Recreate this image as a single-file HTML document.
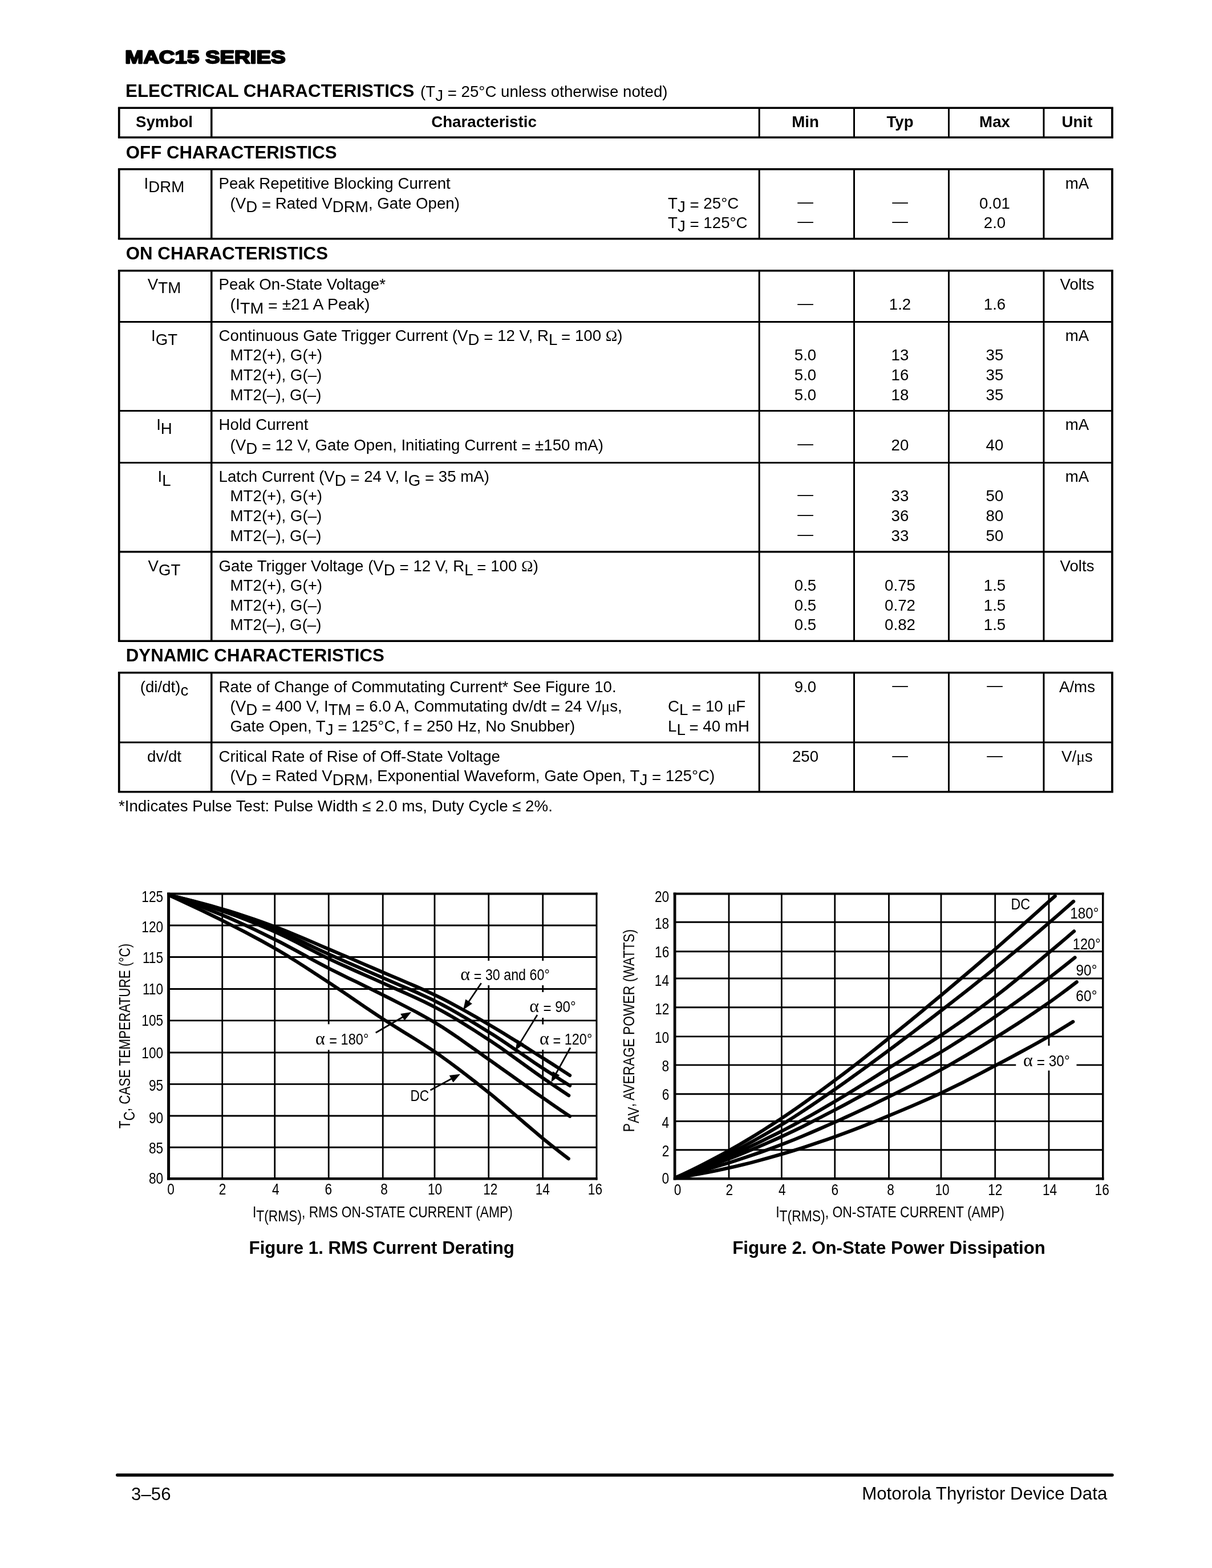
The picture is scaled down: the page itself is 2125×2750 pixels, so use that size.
<!DOCTYPE html>
<html lang="en"><head><meta charset="utf-8"><title>MAC15 Series - Electrical Characteristics</title>
<style>
html,body{margin:0;padding:0;background:#fff}
svg{display:block}
text{font-family:"Liberation Sans",sans-serif;font-size:27.7px;fill:#000;white-space:pre}
.sy{font-family:"Liberation Serif",serif}
line,path{stroke:#000;fill:none}
.hv{stroke:#000;stroke-width:2.3px;stroke-linejoin:round;paint-order:stroke}
</style></head><body>
<svg xml:space="preserve" width="2125" height="2750" viewBox="0 0 2125 2750">
<rect width="2125" height="2750" fill="#fff"/>
<text x="219.2" y="111.2" style="font-size:32px" font-weight="bold" textLength="281.5" lengthAdjust="spacingAndGlyphs" class="hv">MAC15 SERIES</text>
<text x="220" y="170" style="font-size:31.37px" font-weight="bold">ELECTRICAL CHARACTERISTICS</text>
<text x="737" y="170">(T<tspan dy="6.5">J</tspan><tspan dy="-6.5"> </tspan><tspan dy="3">=</tspan><tspan dy="-3"> 25°C unless otherwise noted)</tspan></text>
<text x="220.8" y="277.5" style="font-size:31.25px" font-weight="bold">OFF CHARACTERISTICS</text>
<text x="220.8" y="455" style="font-size:31.25px" font-weight="bold">ON CHARACTERISTICS</text>
<text x="220.8" y="1160" style="font-size:31.25px" font-weight="bold">DYNAMIC CHARACTERISTICS</text>
<line x1="206.9" y1="189.25" x2="1951.9" y2="189.25" stroke-width="3.6" />
<line x1="206.9" y1="241" x2="1951.9" y2="241" stroke-width="3.6" />
<line x1="208.75" y1="189.25" x2="208.75" y2="241" stroke-width="3.7" />
<line x1="1950" y1="189.25" x2="1950" y2="241" stroke-width="3.8" />
<line x1="370.8" y1="189.25" x2="370.8" y2="241" stroke-width="3.5" />
<line x1="1331.2" y1="189.25" x2="1331.2" y2="241" stroke-width="3" />
<line x1="1497.5" y1="189.25" x2="1497.5" y2="241" stroke-width="3" />
<line x1="1663.5" y1="189.25" x2="1663.5" y2="241" stroke-width="3" />
<line x1="1830" y1="189.25" x2="1830" y2="241" stroke-width="3" />
<line x1="206.9" y1="296.75" x2="1951.9" y2="296.75" stroke-width="3.6" />
<line x1="206.9" y1="418.75" x2="1951.9" y2="418.75" stroke-width="3.6" />
<line x1="208.75" y1="296.75" x2="208.75" y2="418.75" stroke-width="3.7" />
<line x1="1950" y1="296.75" x2="1950" y2="418.75" stroke-width="3.8" />
<line x1="370.8" y1="296.75" x2="370.8" y2="418.75" stroke-width="3.5" />
<line x1="1331.2" y1="296.75" x2="1331.2" y2="418.75" stroke-width="3" />
<line x1="1497.5" y1="296.75" x2="1497.5" y2="418.75" stroke-width="3" />
<line x1="1663.5" y1="296.75" x2="1663.5" y2="418.75" stroke-width="3" />
<line x1="1830" y1="296.75" x2="1830" y2="418.75" stroke-width="3" />
<line x1="206.9" y1="474.75" x2="1951.9" y2="474.75" stroke-width="3.6" />
<line x1="206.9" y1="1124.3" x2="1951.9" y2="1124.3" stroke-width="3.6" />
<line x1="208.75" y1="474.75" x2="208.75" y2="1124.3" stroke-width="3.7" />
<line x1="1950" y1="474.75" x2="1950" y2="1124.3" stroke-width="3.8" />
<line x1="370.8" y1="474.75" x2="370.8" y2="1124.3" stroke-width="3.5" />
<line x1="1331.2" y1="474.75" x2="1331.2" y2="1124.3" stroke-width="3" />
<line x1="1497.5" y1="474.75" x2="1497.5" y2="1124.3" stroke-width="3" />
<line x1="1663.5" y1="474.75" x2="1663.5" y2="1124.3" stroke-width="3" />
<line x1="1830" y1="474.75" x2="1830" y2="1124.3" stroke-width="3" />
<line x1="208.75" y1="564.5" x2="1950" y2="564.5" stroke-width="3" />
<line x1="208.75" y1="720.5" x2="1950" y2="720.5" stroke-width="3" />
<line x1="208.75" y1="811.5" x2="1950" y2="811.5" stroke-width="3" />
<line x1="208.75" y1="967.7" x2="1950" y2="967.7" stroke-width="3.4" />
<line x1="206.9" y1="1179.7" x2="1951.9" y2="1179.7" stroke-width="3.6" />
<line x1="206.9" y1="1388.7" x2="1951.9" y2="1388.7" stroke-width="3.6" />
<line x1="208.75" y1="1179.7" x2="208.75" y2="1388.7" stroke-width="3.7" />
<line x1="1950" y1="1179.7" x2="1950" y2="1388.7" stroke-width="3.8" />
<line x1="370.8" y1="1179.7" x2="370.8" y2="1388.7" stroke-width="3.5" />
<line x1="1331.2" y1="1179.7" x2="1331.2" y2="1388.7" stroke-width="3" />
<line x1="1497.5" y1="1179.7" x2="1497.5" y2="1388.7" stroke-width="3" />
<line x1="1663.5" y1="1179.7" x2="1663.5" y2="1388.7" stroke-width="3" />
<line x1="1830" y1="1179.7" x2="1830" y2="1388.7" stroke-width="3" />
<line x1="208.75" y1="1302" x2="1950" y2="1302" stroke-width="3" />
<text x="288" y="222.5" text-anchor="middle" font-weight="bold">Symbol</text>
<text x="848.5" y="222.5" text-anchor="middle" font-weight="bold">Characteristic</text>
<text x="1412" y="222.5" text-anchor="middle" font-weight="bold">Min</text>
<text x="1578" y="222.5" text-anchor="middle" font-weight="bold">Typ</text>
<text x="1744" y="222.5" text-anchor="middle" font-weight="bold">Max</text>
<text x="1888.5" y="222.5" text-anchor="middle" font-weight="bold">Unit</text>
<text x="288" y="330.5" text-anchor="middle">I<tspan dy="6.5">DRM</tspan></text>
<text x="383.5" y="330.5">Peak Repetitive Blocking Current</text>
<text x="1888.5" y="330.5" text-anchor="middle">mA</text>
<text x="403.5" y="365.5">(V<tspan dy="6.5">D</tspan><tspan dy="-6.5"> </tspan><tspan dy="3">=</tspan><tspan dy="-3"> Rated V</tspan><tspan dy="6.5">DRM</tspan><tspan dy="-6.5">, Gate Open)</tspan></text>
<text x="1171" y="365.5">T<tspan dy="6.5">J</tspan><tspan dy="-6.5"> </tspan><tspan dy="3">=</tspan><tspan dy="-3"> 25°C</tspan></text>
<text x="1412" y="363.0" text-anchor="middle">—</text>
<text x="1578" y="363.0" text-anchor="middle">—</text>
<text x="1744" y="365.5" text-anchor="middle">0.01</text>
<text x="1171" y="399.5">T<tspan dy="6.5">J</tspan><tspan dy="-6.5"> </tspan><tspan dy="3">=</tspan><tspan dy="-3"> 125°C</tspan></text>
<text x="1412" y="397.0" text-anchor="middle">—</text>
<text x="1578" y="397.0" text-anchor="middle">—</text>
<text x="1744" y="399.5" text-anchor="middle">2.0</text>
<text x="288" y="507.5" text-anchor="middle">V<tspan dy="6.5">TM</tspan></text>
<text x="383.5" y="507.5">Peak On-State Voltage*</text>
<text x="1888.5" y="507.5" text-anchor="middle">Volts</text>
<text x="403.5" y="543" textLength="245" lengthAdjust="spacingAndGlyphs">(I<tspan dy="6.5">TM</tspan><tspan dy="-6.5"> </tspan><tspan dy="3">=</tspan><tspan dy="-3"> ±21 A Peak)</tspan></text>
<text x="1412" y="540.5" text-anchor="middle">—</text>
<text x="1578" y="543" text-anchor="middle">1.2</text>
<text x="1744" y="543" text-anchor="middle">1.6</text>
<text x="288" y="598" text-anchor="middle">I<tspan dy="6.5">GT</tspan></text>
<text x="383.5" y="598">Continuous Gate Trigger Current (V<tspan dy="6.5">D</tspan><tspan dy="-6.5"> </tspan><tspan dy="3">=</tspan><tspan dy="-3"> 12 V, R</tspan><tspan dy="6.5">L</tspan><tspan dy="-6.5"> </tspan><tspan dy="3">=</tspan><tspan dy="-3"> 100 </tspan><tspan class="sy">Ω</tspan>)</text>
<text x="1888.5" y="598" text-anchor="middle">mA</text>
<text x="403.5" y="631.5">MT2(+), G(+)</text>
<text x="1412" y="631.5" text-anchor="middle">5.0</text>
<text x="1578" y="631.5" text-anchor="middle">13</text>
<text x="1744" y="631.5" text-anchor="middle">35</text>
<text x="403.5" y="666.5">MT2(+), G(–)</text>
<text x="1412" y="666.5" text-anchor="middle">5.0</text>
<text x="1578" y="666.5" text-anchor="middle">16</text>
<text x="1744" y="666.5" text-anchor="middle">35</text>
<text x="403.5" y="701.5">MT2(–), G(–)</text>
<text x="1412" y="701.5" text-anchor="middle">5.0</text>
<text x="1578" y="701.5" text-anchor="middle">18</text>
<text x="1744" y="701.5" text-anchor="middle">35</text>
<text x="288" y="754" text-anchor="middle">I<tspan dy="6.5">H</tspan></text>
<text x="383.5" y="754">Hold Current</text>
<text x="1888.5" y="754" text-anchor="middle">mA</text>
<text x="403.5" y="789.5">(V<tspan dy="6.5">D</tspan><tspan dy="-6.5"> </tspan><tspan dy="3">=</tspan><tspan dy="-3"> 12 V, Gate Open, Initiating Current </tspan><tspan dy="3">=</tspan><tspan dy="-3"> ±150 mA)</tspan></text>
<text x="1412" y="787.0" text-anchor="middle">—</text>
<text x="1578" y="789.5" text-anchor="middle">20</text>
<text x="1744" y="789.5" text-anchor="middle">40</text>
<text x="288" y="845" text-anchor="middle">I<tspan dy="6.5">L</tspan></text>
<text x="383.5" y="845">Latch Current (V<tspan dy="6.5">D</tspan><tspan dy="-6.5"> </tspan><tspan dy="3">=</tspan><tspan dy="-3"> 24 V, I</tspan><tspan dy="6.5">G</tspan><tspan dy="-6.5"> </tspan><tspan dy="3">=</tspan><tspan dy="-3"> 35 mA)</tspan></text>
<text x="1888.5" y="845" text-anchor="middle">mA</text>
<text x="403.5" y="878.5">MT2(+), G(+)</text>
<text x="1412" y="876.0" text-anchor="middle">—</text>
<text x="1578" y="878.5" text-anchor="middle">33</text>
<text x="1744" y="878.5" text-anchor="middle">50</text>
<text x="403.5" y="913.5">MT2(+), G(–)</text>
<text x="1412" y="911.0" text-anchor="middle">—</text>
<text x="1578" y="913.5" text-anchor="middle">36</text>
<text x="1744" y="913.5" text-anchor="middle">80</text>
<text x="403.5" y="948.5">MT2(–), G(–)</text>
<text x="1412" y="946.0" text-anchor="middle">—</text>
<text x="1578" y="948.5" text-anchor="middle">33</text>
<text x="1744" y="948.5" text-anchor="middle">50</text>
<text x="288" y="1002" text-anchor="middle">V<tspan dy="6.5">GT</tspan></text>
<text x="383.5" y="1002">Gate Trigger Voltage (V<tspan dy="6.5">D</tspan><tspan dy="-6.5"> </tspan><tspan dy="3">=</tspan><tspan dy="-3"> 12 V, R</tspan><tspan dy="6.5">L</tspan><tspan dy="-6.5"> </tspan><tspan dy="3">=</tspan><tspan dy="-3"> 100 </tspan><tspan class="sy">Ω</tspan>)</text>
<text x="1888.5" y="1002" text-anchor="middle">Volts</text>
<text x="403.5" y="1035.5">MT2(+), G(+)</text>
<text x="1412" y="1035.5" text-anchor="middle">0.5</text>
<text x="1578" y="1035.5" text-anchor="middle">0.75</text>
<text x="1744" y="1035.5" text-anchor="middle">1.5</text>
<text x="403.5" y="1070.5">MT2(+), G(–)</text>
<text x="1412" y="1070.5" text-anchor="middle">0.5</text>
<text x="1578" y="1070.5" text-anchor="middle">0.72</text>
<text x="1744" y="1070.5" text-anchor="middle">1.5</text>
<text x="403.5" y="1105">MT2(–), G(–)</text>
<text x="1412" y="1105" text-anchor="middle">0.5</text>
<text x="1578" y="1105" text-anchor="middle">0.82</text>
<text x="1744" y="1105" text-anchor="middle">1.5</text>
<text x="288" y="1213.5" text-anchor="middle">(di/dt)<tspan dy="6.5">c</tspan></text>
<text x="383.5" y="1213.5">Rate of Change of Commutating Current* See Figure 10.</text>
<text x="1412" y="1213.5" text-anchor="middle">9.0</text>
<text x="1578" y="1211.0" text-anchor="middle">—</text>
<text x="1744" y="1211.0" text-anchor="middle">—</text>
<text x="1888.5" y="1213.5" text-anchor="middle">A/ms</text>
<text x="403.5" y="1247.5">(V<tspan dy="6.5">D</tspan><tspan dy="-6.5"> </tspan><tspan dy="3">=</tspan><tspan dy="-3"> 400 V, I</tspan><tspan dy="6.5">TM</tspan><tspan dy="-6.5"> </tspan><tspan dy="3">=</tspan><tspan dy="-3"> 6.0 A, Commutating dv/dt </tspan><tspan dy="3">=</tspan><tspan dy="-3"> 24 V/</tspan><tspan class="sy">μ</tspan>s,</text>
<text x="1171" y="1247.5">C<tspan dy="6.5">L</tspan><tspan dy="-6.5"> </tspan><tspan dy="3">=</tspan><tspan dy="-3"> 10 </tspan><tspan class="sy">μ</tspan>F</text>
<text x="403.5" y="1282.5">Gate Open, T<tspan dy="6.5">J</tspan><tspan dy="-6.5"> </tspan><tspan dy="3">=</tspan><tspan dy="-3"> 125°C, f </tspan><tspan dy="3">=</tspan><tspan dy="-3"> 250 Hz, No Snubber)</tspan></text>
<text x="1171" y="1282.5">L<tspan dy="6.5">L</tspan><tspan dy="-6.5"> </tspan><tspan dy="3">=</tspan><tspan dy="-3"> 40 mH</tspan></text>
<text x="288" y="1336" text-anchor="middle">dv/dt</text>
<text x="383.5" y="1336">Critical Rate of Rise of Off-State Voltage</text>
<text x="1412" y="1336" text-anchor="middle">250</text>
<text x="1578" y="1333.5" text-anchor="middle">—</text>
<text x="1744" y="1333.5" text-anchor="middle">—</text>
<text x="1888.5" y="1336" text-anchor="middle">V/<tspan class="sy">μ</tspan>s</text>
<text x="403.5" y="1370">(V<tspan dy="6.5">D</tspan><tspan dy="-6.5"> </tspan><tspan dy="3">=</tspan><tspan dy="-3"> Rated V</tspan><tspan dy="6.5">DRM</tspan><tspan dy="-6.5">, Exponential Waveform, Gate Open, T</tspan><tspan dy="6.5">J</tspan><tspan dy="-6.5"> </tspan><tspan dy="3">=</tspan><tspan dy="-3"> 125°C)</tspan></text>
<text x="208" y="1423">*Indicates Pulse Test: Pulse Width ≤ 2.0 ms, Duty Cycle ≤ 2%.</text>
<line x1="205.8" y1="2587" x2="1950" y2="2587" stroke-width="5.6" stroke-linecap="round"/>
<text x="230" y="2630.5" style="font-size:31.25px">3–56</text>
<text x="1941.3" y="2630.3" style="font-size:31.25px" text-anchor="end">Motorola Thyristor Device Data</text>
<clipPath id="c1"><rect x="295.6" y="1567.6" width="750.4" height="499.6"/></clipPath>
<line x1="389.75" y1="1567.6" x2="389.75" y2="2067.2" stroke-width="2.8" />
<line x1="481.75" y1="1567.6" x2="481.75" y2="2067.2" stroke-width="2.8" />
<line x1="576.25" y1="1567.6" x2="576.25" y2="2067.2" stroke-width="2.8" />
<line x1="671.25" y1="1567.6" x2="671.25" y2="2067.2" stroke-width="2.8" />
<line x1="762" y1="1567.6" x2="762" y2="2067.2" stroke-width="2.8" />
<line x1="856.75" y1="1567.6" x2="856.75" y2="2067.2" stroke-width="2.8" />
<line x1="951.75" y1="1567.6" x2="951.75" y2="2067.2" stroke-width="2.8" />
<line x1="295.6" y1="1623" x2="1046" y2="1623" stroke-width="2.8" />
<line x1="295.6" y1="1678.5" x2="1046" y2="1678.5" stroke-width="2.8" />
<line x1="295.6" y1="1734.5" x2="1046" y2="1734.5" stroke-width="2.8" />
<line x1="295.6" y1="1789.9" x2="1046" y2="1789.9" stroke-width="2.8" />
<line x1="295.6" y1="1846" x2="1046" y2="1846" stroke-width="2.8" />
<line x1="295.6" y1="1901.4" x2="1046" y2="1901.4" stroke-width="2.8" />
<line x1="295.6" y1="1957" x2="1046" y2="1957" stroke-width="2.8" />
<line x1="295.6" y1="2012.25" x2="1046" y2="2012.25" stroke-width="2.8" />
<rect x="800" y="1685" width="170" height="43" fill="#fff"/>
<rect x="925" y="1740" width="90" height="45" fill="#fff"/>
<rect x="940" y="1796.6" width="100" height="44.4" fill="#fff"/>
<rect x="548" y="1796.3" width="102" height="45" fill="#fff"/>
<line x1="295.6" y1="1565.6" x2="295.6" y2="2069.3999999999996" stroke-width="5" />
<line x1="1046" y1="1565.6" x2="1046" y2="2069.3999999999996" stroke-width="3" />
<line x1="293.1" y1="1567.6" x2="1047.5" y2="1567.6" stroke-width="4" />
<line x1="293.1" y1="2067.2" x2="1047.5" y2="2067.2" stroke-width="4.5" />
<path d="M295.6 1569.8 L310.6 1573.3 L325.5 1576.9 L340.5 1580.7 L355.5 1584.7 L370.4 1588.8 L385.4 1593.1 L400.4 1597.5 L415.3 1602.2 L430.3 1607.1 L445.3 1612.2 L460.2 1617.4 L475.2 1622.8 L490.2 1628.4 L505.2 1634.3 L520.1 1640.5 L535.1 1646.9 L550.1 1653.3 L565.0 1659.8 L580.0 1666.1 L595.0 1672.5 L609.9 1678.8 L624.9 1685.3 L639.9 1691.7 L654.8 1698.1 L669.8 1704.6 L684.8 1711.0 L699.7 1717.3 L714.7 1723.7 L729.7 1730.1 L744.6 1736.8 L759.6 1743.7 L774.6 1751.1 L789.5 1758.8 L804.5 1766.9 L819.5 1775.2 L834.5 1783.7 L849.4 1792.4 L864.4 1801.1 L879.4 1810.1 L894.3 1819.3 L909.3 1828.7 L924.3 1838.2 L939.2 1847.7 L954.2 1857.2 L969.2 1866.7 L984.1 1876.3 L999.1 1886.0" stroke-width="6.1" stroke-linecap="round" stroke-linejoin="round" clip-path="url(#c1)"/>
<path d="M295.6 1569.8 L310.6 1573.4 L325.5 1577.3 L340.5 1581.3 L355.5 1585.6 L370.4 1590.0 L385.4 1594.7 L400.4 1599.5 L415.3 1604.5 L430.3 1609.8 L445.3 1615.4 L460.2 1621.1 L475.2 1627.1 L490.2 1633.2 L505.2 1639.8 L520.1 1646.8 L535.1 1654.0 L550.1 1661.2 L565.0 1668.2 L580.0 1675.1 L595.0 1681.7 L609.9 1688.3 L624.9 1694.7 L639.9 1701.2 L654.8 1707.7 L669.8 1714.3 L684.8 1720.8 L699.7 1727.2 L714.7 1733.6 L729.7 1740.1 L744.6 1746.9 L759.6 1754.1 L774.6 1761.7 L789.5 1769.8 L804.5 1778.3 L819.5 1787.1 L834.5 1796.2 L849.4 1805.4 L864.4 1814.7 L879.4 1824.4 L894.3 1834.5 L909.3 1844.7 L924.3 1855.0 L939.2 1865.2 L954.2 1875.1 L969.2 1884.8 L984.1 1894.5 L999.1 1904.0" stroke-width="6.1" stroke-linecap="round" stroke-linejoin="round" clip-path="url(#c1)"/>
<path d="M295.6 1569.8 L310.5 1573.6 L325.5 1577.7 L340.4 1582.0 L355.3 1586.5 L370.2 1591.2 L385.2 1596.1 L400.1 1601.3 L415.0 1606.7 L430.0 1612.4 L444.9 1618.4 L459.8 1624.6 L474.7 1631.0 L489.7 1637.7 L504.6 1644.8 L519.5 1652.4 L534.5 1660.2 L549.4 1667.9 L564.3 1675.5 L579.2 1682.8 L594.2 1689.7 L609.1 1696.4 L624.0 1703.1 L638.9 1709.7 L653.9 1716.3 L668.8 1723.0 L683.7 1729.8 L698.7 1736.4 L713.6 1743.0 L728.5 1749.8 L743.4 1756.8 L758.4 1764.2 L773.3 1772.1 L788.2 1780.5 L803.2 1789.4 L818.1 1798.6 L833.0 1808.0 L847.9 1817.7 L862.9 1827.4 L877.8 1837.6 L892.7 1848.2 L907.7 1858.9 L922.6 1869.7 L937.5 1880.5 L952.4 1890.9 L967.4 1901.2 L982.3 1911.3 L997.2 1921.3" stroke-width="6.1" stroke-linecap="round" stroke-linejoin="round" clip-path="url(#c1)"/>
<path d="M295.6 1569.8 L310.6 1574.8 L325.5 1580.1 L340.5 1585.6 L355.5 1591.2 L370.4 1597.1 L385.4 1603.1 L400.4 1609.4 L415.3 1616.0 L430.3 1622.8 L445.3 1629.8 L460.2 1637.0 L475.2 1644.4 L490.2 1651.8 L505.2 1659.7 L520.1 1667.8 L535.1 1676.0 L550.1 1684.3 L565.0 1692.3 L580.0 1700.1 L595.0 1707.6 L609.9 1714.9 L624.9 1722.1 L639.9 1729.4 L654.8 1736.7 L669.8 1744.2 L684.8 1751.8 L699.7 1759.4 L714.7 1767.1 L729.7 1774.9 L744.6 1783.1 L759.6 1791.7 L774.6 1800.8 L789.5 1810.6 L804.5 1820.8 L819.5 1831.4 L834.5 1842.1 L849.4 1852.8 L864.4 1863.3 L879.4 1873.9 L894.3 1884.6 L909.3 1895.3 L924.3 1906.0 L939.2 1916.7 L954.2 1927.1 L969.2 1937.5 L984.1 1947.7 L999.1 1957.8" stroke-width="6.1" stroke-linecap="round" stroke-linejoin="round" clip-path="url(#c1)"/>
<path d="M295.6 1569.8 L310.5 1576.5 L325.4 1583.4 L340.4 1590.4 L355.3 1597.5 L370.2 1604.7 L385.1 1612.1 L400.0 1619.6 L414.9 1627.1 L429.9 1634.8 L444.8 1642.7 L459.7 1650.7 L474.6 1659.1 L489.5 1667.7 L504.5 1676.7 L519.4 1686.0 L534.3 1695.5 L549.2 1705.3 L564.1 1715.0 L579.0 1724.8 L594.0 1734.7 L608.9 1744.8 L623.8 1755.0 L638.7 1765.2 L653.6 1775.3 L668.6 1785.2 L683.5 1794.8 L698.4 1804.1 L713.3 1813.3 L728.2 1822.5 L743.1 1832.0 L758.1 1841.8 L773.0 1852.1 L787.9 1862.9 L802.8 1874.0 L817.7 1885.4 L832.7 1897.0 L847.6 1908.8 L862.5 1920.7 L877.4 1933.1 L892.3 1945.8 L907.2 1958.7 L922.2 1971.6 L937.1 1984.3 L952.0 1996.8 L966.9 2008.8 L981.8 2020.6 L996.8 2032.2" stroke-width="6.1" stroke-linecap="round" stroke-linejoin="round" clip-path="url(#c1)"/>
<text transform="translate(248.29 1582.2) scale(0.8200 1)">125</text>
<text transform="translate(248.29 1635.3) scale(0.8200 1)">120</text>
<text transform="translate(249.88 1689.1) scale(0.8200 1)">115</text>
<text transform="translate(249.88 1744.1) scale(0.8200 1)">110</text>
<text transform="translate(248.29 1799.1) scale(0.8200 1)">105</text>
<text transform="translate(248.29 1855.6) scale(0.8200 1)">100</text>
<text transform="translate(260.90 1913) scale(0.8200 1)">95</text>
<text transform="translate(260.90 1969.8) scale(0.8200 1)">90</text>
<text transform="translate(260.90 2022.5) scale(0.8200 1)">85</text>
<text transform="translate(260.90 2075.6) scale(0.8200 1)">80</text>
<text transform="translate(293.20 2095) scale(0.8200 1)">0</text>
<text transform="translate(383.73 2095) scale(0.8200 1)">2</text>
<text transform="translate(477.08 2095) scale(0.8200 1)">4</text>
<text transform="translate(569.62 2095) scale(0.8200 1)">6</text>
<text transform="translate(667.30 2095) scale(0.8200 1)">8</text>
<text transform="translate(749.95 2095) scale(0.8200 1)">10</text>
<text transform="translate(847.17 2095) scale(0.8200 1)">12</text>
<text transform="translate(938.72 2095) scale(0.8200 1)">14</text>
<text transform="translate(1030.81 2095) scale(0.8200 1)">16</text>
<text transform="translate(442.95 2135) scale(0.8232 1)">I<tspan dy="6.5">T(RMS)</tspan><tspan dy="-6.5">, RMS ON-STATE CURRENT (AMP)</tspan></text>
<text transform="translate(228.20 1979.2629797627355) rotate(-90) scale(0.8130 1)">T<tspan dy="7.5">C</tspan><tspan dy="-7.5">, CASE TEMPERATURE (°C)</tspan></text>
<text x="669.25" y="2199" style="font-size:31.25px" text-anchor="middle" font-weight="bold">Figure 1. RMS Current Derating</text>
<text x="807.3" y="1719" class="sy" style="font-size:32px">α</text>
<text transform="translate(830.84 1719) scale(0.8400 1)"><tspan dy="3">=</tspan><tspan dy="-3"> 30 and 60°</tspan></text>
<text x="928.2" y="1775" class="sy" style="font-size:32px">α</text>
<text transform="translate(952.39 1775) scale(0.8718 1)"><tspan dy="3">=</tspan><tspan dy="-3"> 90°</tspan></text>
<text x="946.0" y="1831.5" class="sy" style="font-size:32px">α</text>
<text transform="translate(969.42 1831.5) scale(0.8488 1)"><tspan dy="3">=</tspan><tspan dy="-3"> 120°</tspan></text>
<text x="553.0" y="1832" class="sy" style="font-size:32px">α</text>
<text transform="translate(577.22 1832) scale(0.8526 1)"><tspan dy="3">=</tspan><tspan dy="-3"> 180°</tspan></text>
<text transform="translate(719.43 1931.25) scale(0.8205 1)">DC</text>
<line x1="843.75" y1="1724.25" x2="821.0" y2="1758.0" stroke-width="2.7" />
<polygon points="812.0,1771.2 816.3,1752.4 827.9,1760.3" fill="#000"/>
<line x1="942" y1="1780" x2="911.9" y2="1828.9" stroke-width="2.7" />
<polygon points="903.5,1842.5 907.0,1823.5 918.9,1830.8" fill="#000"/>
<line x1="1000" y1="1837.5" x2="974.2" y2="1884.0" stroke-width="2.7" />
<polygon points="966.4,1898.0 969.0,1878.9 981.3,1885.7" fill="#000"/>
<line x1="658.75" y1="1811.25" x2="707.4" y2="1783.0" stroke-width="2.7" />
<polygon points="721.2,1775.0 709.2,1790.1 702.2,1778.0" fill="#000"/>
<line x1="754.5" y1="1912" x2="792.9" y2="1891.3" stroke-width="2.7" />
<polygon points="807.0,1883.8 794.5,1898.4 787.8,1886.1" fill="#000"/>
<clipPath id="c2"><rect x="1183.1" y="1567.5" width="750.6" height="499.7"/></clipPath>
<line x1="1278" y1="1567.5" x2="1278" y2="2067.2" stroke-width="2.8" />
<line x1="1370.4" y1="1567.5" x2="1370.4" y2="2067.2" stroke-width="2.8" />
<line x1="1463.75" y1="1567.5" x2="1463.75" y2="2067.2" stroke-width="2.8" />
<line x1="1558.5" y1="1567.5" x2="1558.5" y2="2067.2" stroke-width="2.8" />
<line x1="1650" y1="1567.5" x2="1650" y2="2067.2" stroke-width="2.8" />
<line x1="1744.75" y1="1567.5" x2="1744.75" y2="2067.2" stroke-width="2.8" />
<line x1="1839" y1="1567.5" x2="1839" y2="2067.2" stroke-width="2.8" />
<line x1="1183.1" y1="1617.25" x2="1933.75" y2="1617.25" stroke-width="2.8" />
<line x1="1183.1" y1="1668.75" x2="1933.75" y2="1668.75" stroke-width="2.8" />
<line x1="1183.1" y1="1716" x2="1933.75" y2="1716" stroke-width="2.8" />
<line x1="1183.1" y1="1766.75" x2="1933.75" y2="1766.75" stroke-width="2.8" />
<line x1="1183.1" y1="1817.9" x2="1933.75" y2="1817.9" stroke-width="2.8" />
<line x1="1183.1" y1="1867.9" x2="1933.75" y2="1867.9" stroke-width="2.8" />
<line x1="1183.1" y1="1918.75" x2="1933.75" y2="1918.75" stroke-width="2.8" />
<line x1="1183.1" y1="1966.5" x2="1933.75" y2="1966.5" stroke-width="2.8" />
<line x1="1183.1" y1="2016.75" x2="1933.75" y2="2016.75" stroke-width="2.8" />
<rect x="1781.25" y="1834" width="106.25" height="43.5" fill="#fff"/>
<line x1="1183.1" y1="1565.5" x2="1183.1" y2="2069.3999999999996" stroke-width="4.75" />
<line x1="1933.75" y1="1565.5" x2="1933.75" y2="2069.3999999999996" stroke-width="3.5" />
<line x1="1180.6999999999998" y1="1567.5" x2="1935.45" y2="1567.5" stroke-width="4" />
<line x1="1180.6999999999998" y1="2067.2" x2="1935.45" y2="2067.2" stroke-width="4.5" />
<path d="M1183.1 2066.0 L1197.3 2059.4 L1211.5 2052.7 L1225.7 2045.7 L1239.8 2038.5 L1254.0 2031.0 L1268.2 2023.4 L1282.4 2015.5 L1296.6 2007.4 L1310.8 1999.0 L1325.0 1990.4 L1339.1 1981.5 L1353.3 1972.4 L1367.5 1963.2 L1381.7 1953.7 L1395.9 1944.0 L1410.1 1934.0 L1424.3 1923.8 L1438.4 1913.4 L1452.6 1902.9 L1466.8 1892.4 L1481.0 1881.7 L1495.2 1870.8 L1509.4 1859.8 L1523.6 1848.6 L1537.7 1837.4 L1551.9 1826.0 L1566.1 1814.7 L1580.3 1803.2 L1594.5 1791.6 L1608.7 1780.0 L1622.9 1768.2 L1637.0 1756.4 L1651.2 1744.6 L1665.4 1732.7 L1679.6 1720.7 L1693.8 1708.7 L1708.0 1696.6 L1722.2 1684.4 L1736.3 1672.1 L1750.5 1659.8 L1764.7 1647.3 L1778.9 1634.7 L1793.1 1622.1 L1807.3 1609.4 L1821.5 1596.7 L1835.6 1584.1 L1849.8 1571.6" stroke-width="6.1" stroke-linecap="round" stroke-linejoin="round" clip-path="url(#c2)"/>
<path d="M1183.1 2066.0 L1198.0 2059.9 L1212.8 2053.6 L1227.7 2047.1 L1242.6 2040.4 L1257.5 2033.4 L1272.3 2026.2 L1287.2 2018.8 L1302.1 2011.1 L1317.0 2003.1 L1331.8 1994.9 L1346.7 1986.4 L1361.6 1977.7 L1376.5 1968.8 L1391.3 1959.5 L1406.2 1949.8 L1421.1 1939.9 L1436.0 1929.8 L1450.8 1919.5 L1465.7 1909.2 L1480.6 1898.8 L1495.5 1888.1 L1510.3 1877.4 L1525.2 1866.5 L1540.1 1855.5 L1555.0 1844.5 L1569.8 1833.5 L1584.7 1822.3 L1599.6 1811.1 L1614.5 1799.8 L1629.3 1788.5 L1644.2 1777.0 L1659.1 1765.5 L1674.0 1753.9 L1688.8 1742.3 L1703.7 1730.6 L1718.6 1718.7 L1733.5 1706.8 L1748.3 1694.7 L1763.2 1682.5 L1778.1 1670.2 L1793.0 1657.8 L1807.8 1645.2 L1822.7 1632.6 L1837.6 1619.8 L1852.5 1607.0 L1867.3 1594.0 L1882.2 1580.9" stroke-width="6.1" stroke-linecap="round" stroke-linejoin="round" clip-path="url(#c2)"/>
<path d="M1183.1 2066.0 L1198.0 2060.4 L1212.9 2054.6 L1227.8 2048.7 L1242.7 2042.6 L1257.6 2036.4 L1272.5 2030.0 L1287.4 2023.5 L1302.3 2016.8 L1317.2 2009.9 L1332.0 2002.9 L1346.9 1995.6 L1361.8 1988.2 L1376.7 1980.6 L1391.6 1972.7 L1406.5 1964.6 L1421.4 1956.3 L1436.3 1947.8 L1451.2 1939.2 L1466.1 1930.4 L1481.0 1921.5 L1495.9 1912.4 L1510.8 1903.1 L1525.7 1893.8 L1540.6 1884.4 L1555.5 1875.0 L1570.4 1865.7 L1585.3 1856.5 L1600.1 1847.3 L1615.0 1838.0 L1629.9 1828.6 L1644.8 1818.9 L1659.7 1809.0 L1674.6 1798.8 L1689.5 1788.4 L1704.4 1777.8 L1719.3 1767.0 L1734.2 1755.9 L1749.1 1744.6 L1764.0 1733.0 L1778.9 1721.0 L1793.8 1708.7 L1808.7 1696.2 L1823.6 1683.7 L1838.5 1671.2 L1853.4 1658.7 L1868.3 1646.0 L1883.1 1633.3" stroke-width="6.1" stroke-linecap="round" stroke-linejoin="round" clip-path="url(#c2)"/>
<path d="M1183.1 2066.0 L1198.0 2061.1 L1212.9 2056.0 L1227.9 2050.8 L1242.8 2045.5 L1257.7 2040.0 L1272.6 2034.3 L1287.6 2028.6 L1302.5 2022.6 L1317.4 2016.5 L1332.3 2010.2 L1347.3 2003.8 L1362.2 1997.1 L1377.1 1990.3 L1392.0 1983.2 L1407.0 1975.9 L1421.9 1968.3 L1436.8 1960.6 L1451.7 1952.9 L1466.7 1945.1 L1481.6 1937.2 L1496.5 1929.1 L1511.4 1921.0 L1526.4 1912.8 L1541.3 1904.6 L1556.2 1896.4 L1571.1 1888.3 L1586.1 1880.3 L1601.0 1872.3 L1615.9 1864.3 L1630.8 1856.0 L1645.8 1847.5 L1660.7 1838.5 L1675.6 1829.2 L1690.5 1819.7 L1705.5 1809.8 L1720.4 1799.8 L1735.3 1789.7 L1750.2 1779.4 L1765.2 1769.1 L1780.1 1758.5 L1795.0 1747.8 L1809.9 1736.9 L1824.9 1725.8 L1839.8 1714.6 L1854.7 1703.1 L1869.6 1691.3 L1884.6 1679.4" stroke-width="6.1" stroke-linecap="round" stroke-linejoin="round" clip-path="url(#c2)"/>
<path d="M1183.1 2066.0 L1198.1 2062.1 L1213.1 2058.2 L1228.1 2054.0 L1243.1 2049.7 L1258.1 2045.3 L1273.1 2040.8 L1288.1 2036.1 L1303.1 2031.2 L1318.0 2026.2 L1333.0 2021.0 L1348.0 2015.6 L1363.0 2010.1 L1378.0 2004.4 L1393.0 1998.5 L1408.0 1992.3 L1423.0 1985.9 L1438.0 1979.4 L1453.0 1972.8 L1468.0 1966.2 L1483.0 1959.4 L1498.0 1952.5 L1513.0 1945.5 L1528.0 1938.4 L1543.0 1931.1 L1558.0 1923.8 L1573.0 1916.3 L1587.9 1908.8 L1602.9 1901.1 L1617.9 1893.2 L1632.9 1885.2 L1647.9 1877.1 L1662.9 1868.8 L1677.9 1860.2 L1692.9 1851.5 L1707.9 1842.6 L1722.9 1833.6 L1737.9 1824.4 L1752.9 1815.1 L1767.9 1805.7 L1782.9 1796.1 L1797.9 1786.3 L1812.9 1776.3 L1827.9 1766.1 L1842.9 1755.7 L1857.8 1744.9 L1872.8 1733.7 L1887.8 1722.3" stroke-width="6.1" stroke-linecap="round" stroke-linejoin="round" clip-path="url(#c2)"/>
<path d="M1183.1 2066.0 L1198.0 2063.7 L1212.8 2061.2 L1227.7 2058.5 L1242.5 2055.7 L1257.4 2052.7 L1272.2 2049.6 L1287.1 2046.3 L1301.9 2042.8 L1316.8 2039.1 L1331.6 2035.1 L1346.5 2031.0 L1361.4 2026.8 L1376.2 2022.5 L1391.1 2018.0 L1405.9 2013.3 L1420.8 2008.4 L1435.6 2003.4 L1450.5 1998.3 L1465.3 1993.1 L1480.2 1987.7 L1495.0 1982.1 L1509.9 1976.3 L1524.8 1970.4 L1539.6 1964.5 L1554.5 1958.4 L1569.3 1952.3 L1584.2 1946.0 L1599.0 1939.7 L1613.9 1933.3 L1628.7 1926.7 L1643.6 1919.9 L1658.4 1913.0 L1673.3 1905.8 L1688.2 1898.4 L1703.0 1890.8 L1717.9 1883.1 L1732.7 1875.3 L1747.6 1867.5 L1762.4 1859.7 L1777.3 1851.7 L1792.1 1843.7 L1807.0 1835.6 L1821.9 1827.3 L1836.7 1818.8 L1851.6 1810.1 L1866.4 1801.1 L1881.3 1791.9" stroke-width="6.1" stroke-linecap="round" stroke-linejoin="round" clip-path="url(#c2)"/>
<text transform="translate(1148.00 1581.7) scale(0.8200 1)">20</text>
<text transform="translate(1148.00 1628.8) scale(0.8200 1)">18</text>
<text transform="translate(1148.11 1678.8) scale(0.8200 1)">16</text>
<text transform="translate(1147.77 1729) scale(0.8200 1)">14</text>
<text transform="translate(1148.22 1778.8) scale(0.8200 1)">12</text>
<text transform="translate(1148.00 1828.5) scale(0.8200 1)">10</text>
<text transform="translate(1160.60 1879) scale(0.8200 1)">8</text>
<text transform="translate(1160.72 1928.8) scale(0.8200 1)">6</text>
<text transform="translate(1160.38 1978) scale(0.8200 1)">4</text>
<text transform="translate(1160.83 2027.8) scale(0.8200 1)">2</text>
<text transform="translate(1160.60 2075.9) scale(0.8200 1)">0</text>
<text transform="translate(1181.70 2095.5) scale(0.8200 1)">0</text>
<text transform="translate(1272.53 2095.5) scale(0.8200 1)">2</text>
<text transform="translate(1365.08 2095.5) scale(0.8200 1)">4</text>
<text transform="translate(1457.42 2095.5) scale(0.8200 1)">6</text>
<text transform="translate(1555.30 2095.5) scale(0.8200 1)">8</text>
<text transform="translate(1639.45 2095.5) scale(0.8200 1)">10</text>
<text transform="translate(1732.17 2095.5) scale(0.8200 1)">12</text>
<text transform="translate(1827.97 2095.5) scale(0.8200 1)">14</text>
<text transform="translate(1919.56 2095.5) scale(0.8200 1)">16</text>
<text transform="translate(1360.24 2135) scale(0.8265 1)">I<tspan dy="6.5">T(RMS)</tspan><tspan dy="-6.5">, ON-STATE CURRENT (AMP)</tspan></text>
<text transform="translate(1112.00 1985.3264002620374) rotate(-90) scale(0.8242 1)">P<tspan dy="7.5">AV</tspan><tspan dy="-7.5">, AVERAGE POWER (WATTS)</tspan></text>
<text x="1558.6" y="2199" style="font-size:31.25px" text-anchor="middle" font-weight="bold">Figure 2. On-State Power Dissipation</text>
<text transform="translate(1772.39 1595) scale(0.8410 1)">DC</text>
<text transform="translate(1876.18 1611.25) scale(0.8769 1)">180°</text>
<text transform="translate(1880.73 1665) scale(0.8536 1)">120°</text>
<text transform="translate(1886.40 1711.25) scale(0.8865 1)">90°</text>
<text transform="translate(1886.27 1755.5) scale(0.8896 1)">60°</text>
<text x="1794.0" y="1869.5" class="sy" style="font-size:32px">α</text>
<text transform="translate(1817.78 1869.5) scale(0.8806 1)"><tspan dy="3">=</tspan><tspan dy="-3"> 30°</tspan></text>
</svg>
</body></html>
